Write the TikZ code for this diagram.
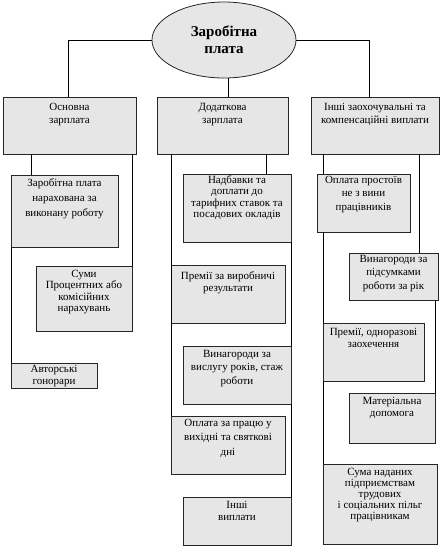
\documentclass[tikz,border=0pt]{standalone}
\usepackage{fontspec}
\setmainfont{Liberation Serif}
\usetikzlibrary{shapes.geometric}
\definecolor{boxfill}{RGB}{230,230,230}
\tikzset{
  conn/.style={draw=black, line width=0.8pt},
  boxstyle/.style={draw=black!85, fill=boxfill, line width=0.8pt, rectangle, inner sep=0pt, outer sep=0pt},
  txt/.style={align=center, inner sep=0pt, font=\fontsize{11}{13.5}\selectfont},
}
% name, x1, y1, x2, y2, text shift, text
\newcommand\mybox[7]{%
  \node[boxstyle, anchor=north west, minimum width={(#4-#2)*1pt}, minimum height={(#5-#3)*1pt}] (#1) at (#2,-#3) {};
  \node[txt, anchor=north] (#1t) at ([yshift=-#6pt]#1.north) {#7};
}
\begin{document}
\begin{tikzpicture}[x=1pt,y=1pt]
\fill[white] (0,0) rectangle (440,-552);
\useasboundingbox (0,0) rectangle (440,-552);

\node[ellipse, draw=black!85, line width=0.8pt, fill=boxfill, minimum width=144pt, minimum height=76pt, inner sep=0pt, align=center, font=\bfseries\fontsize{15}{17}\selectfont] (ell) at (224,-40) {Заробітна\\плата};

\mybox{top1}{3}{97}{136}{154}{6}{Основна\\зарплата}
\mybox{top2}{157}{97}{288}{154}{6}{Додаткова\\зарплата}
\mybox{top3}{311}{97}{439}{154}{6}{Інші заохочувальні та\\компенсаційні виплати}

\mybox{A1}{11}{175}{118}{247}{3}{Заробітна плата\\[1.5pt]нарахована за\\[1.5pt]виконану роботу}
\mybox{A2}{36}{266}{132}{331}{4}{Суми\\[-2pt]Процентних або\\[-2pt]комісійних\\[-2pt]нарахувань}
\mybox{A3}{11}{363}{97}{388}{2}{Авторські\\[-1pt]гонорари}

\mybox{B1}{183}{174}{291}{242}{1}{Надбавки та\\[-2pt]доплати до\\[-2pt]тарифних ставок та\\[-2pt]посадових окладів}
\mybox{B2}{171}{265}{285}{323}{6}{Премії за виробничі\\[-1pt]результати}
\mybox{B3}{183}{346}{291}{404}{4}{Винагороди за\\вислугу років, стаж\\роботи}
\mybox{B4}{171}{416}{285}{474}{3}{Оплата за працю у\\[1pt]вихідні та святкові\\[1pt]дні}
\mybox{B5}{183}{497}{291}{545}{4}{Інші\\[-1pt]виплати}

\mybox{C1}{317}{174}{410}{232}{2}{Оплата простоїв\\не з вини\\працівників}
\mybox{C2}{349}{253}{438}{300}{2}{Винагороди за\\підсумками\\роботи за рік}
\mybox{C3}{323}{323}{424}{381}{5}{Премії, одноразові\\[-1pt]заохечення}
\mybox{C4}{349}{393}{435}{443}{4}{Матеріальна\\[-1pt]допомога}
\mybox{C5}{323}{464}{437}{544}{4}{Сума наданих\\[-2.5pt]підприємствам\\[-2.5pt]трудових\\[-2.5pt]і соціальних пільг\\[-2.5pt]працівникам}

\coordinate (x68) at (68,0);
\coordinate (x369) at (369,0);
\coordinate (x228) at (228,0);
\coordinate (x31) at (31,0);
\coordinate (x132) at (132,0);
\coordinate (x171) at (171,0);
\coordinate (x266) at (266,0);
\coordinate (x323) at (323,0);
\coordinate (x419) at (419,0);
\coordinate (x435) at (435,0);

\draw[conn] (ell.west) -| (top1.north -| x68);
\draw[conn] (ell.east) -| (top3.north -| x369);
\draw[conn] (ell.south -| x228) -- (top2.north -| x228);

\draw[conn] (top1.south -| x31) -- (A1.north -| x31);
\draw[conn] (top1.south -| x132) -- (A2.north -| x132);
\draw[conn] (A1.south west) -- (A3.north west);

\draw[conn] (top2.south -| x171) -- (B4.north west);
\draw[conn] (top2.south -| x266) -- (B1.north -| x266);
\draw[conn] (B1.south east) -- (B3.north east);
\draw[conn] (B3.south east) -- (B5.north east);

\draw[conn] (top3.south -| x323) -- (C1.north -| x323);
\draw[conn] (C1.south -| x323) -- (C3.north west);
\draw[conn] (C3.south west) -- (C5.north west);
\draw[conn] (top3.south -| x419) -- (C2.north -| x419);
\draw[conn] (C2.south -| x435) -- (C4.north east);
\end{tikzpicture}
\end{document}
